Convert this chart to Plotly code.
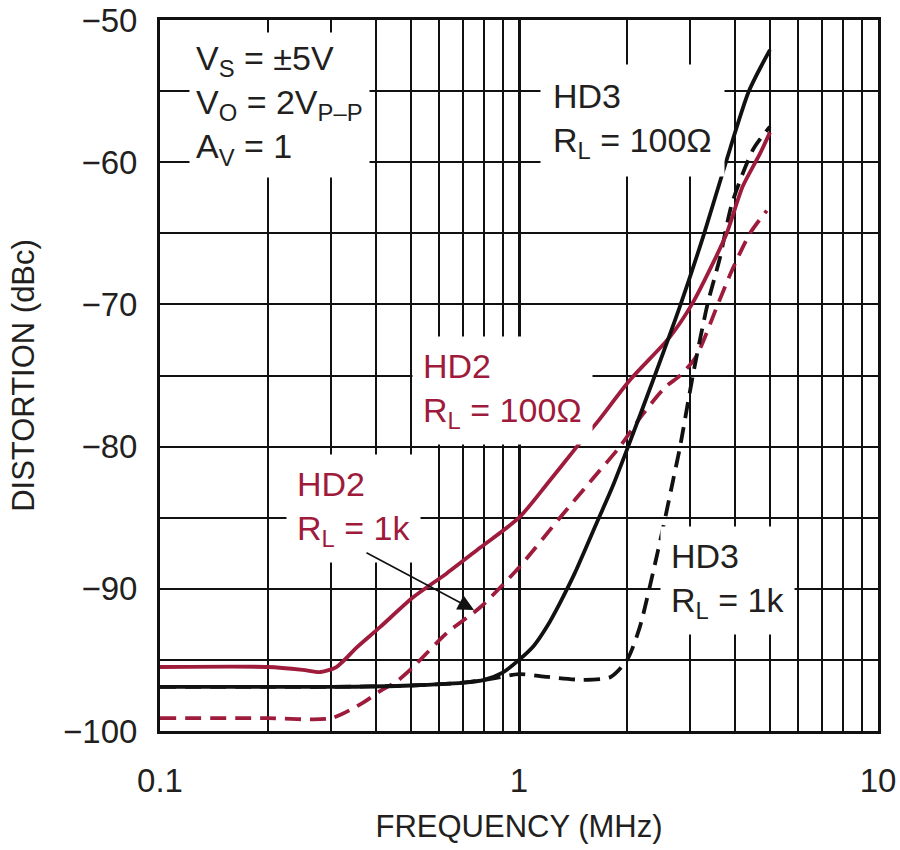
import plotly.graph_objects as go

# ---- data (frequency in MHz, distortion in dBc) ----
hd3_100_f = [0.1, 0.2, 0.3, 0.5, 0.7, 0.8, 0.9, 1.0, 1.1, 1.2, 1.3, 1.43, 1.65, 1.83, 2.0, 2.39, 2.82, 3.28, 3.77, 4.37, 5.0]
hd3_100_v = [-96.9, -96.9, -96.9, -96.8, -96.6, -96.4, -95.9, -95.0, -94.0, -92.6, -91.0, -88.9, -85.3, -82.7, -80.2, -75.0, -70.0, -65.0, -60.0, -55.0, -52.1]

hd3_1k_f = [0.1, 0.2, 0.3, 0.5, 0.7, 0.85, 1.0, 1.2, 1.5, 1.8, 2.0, 2.17, 2.36, 2.52, 2.69, 2.81, 3.05, 3.35, 3.63, 3.92, 4.49, 5.0]
hd3_1k_v = [-96.9, -96.9, -96.9, -96.8, -96.6, -96.3, -96.0, -96.2, -96.4, -96.2, -95.0, -92.7, -88.9, -85.7, -82.3, -80.0, -75.0, -70.0, -66.7, -62.9, -59.1, -57.5]

hd2_100_f = [0.1, 0.2, 0.25, 0.28, 0.31, 0.354, 0.41, 0.507, 0.63, 0.78, 1.0, 1.2, 1.45, 1.65, 2.04, 2.63, 3.03, 3.47, 3.79, 4.2, 4.69, 5.0]
hd2_100_v = [-95.5, -95.5, -95.7, -95.85, -95.5, -94.1, -92.7, -90.6, -88.9, -87.1, -85.0, -82.6, -80.0, -78.3, -75.3, -72.3, -70.0, -67.1, -65.0, -61.7, -59.4, -57.9]

hd2_1k_f = [0.1, 0.2, 0.3, 0.368, 0.41, 0.457, 0.507, 0.63, 0.78, 1.0, 1.3, 1.6, 1.91, 2.2, 2.56, 2.81, 3.11, 3.58, 3.92, 4.4, 4.9]
hd2_1k_v = [-99.1, -99.1, -99.1, -98.0, -97.2, -96.5, -95.5, -93.1, -91.3, -88.5, -85.0, -82.3, -80.0, -77.8, -75.8, -75.0, -73.7, -70.0, -67.6, -65.0, -63.4]

x_ticks = [0.1, 1, 10]
x_tick_text = ["0.1", "1", "10"]
x_minor = [0.2, 0.3, 0.4, 0.5, 0.6, 0.7, 0.8, 0.9, 2, 3, 4, 5, 6, 7, 8, 9]
y_ticks = [-100, -90, -80, -70, -60, -50]

RED = "#9e1b3c"
BLACK = "#111111"
TXT = "#231f20"
FONT = "Liberation Sans, Arial, sans-serif"

fig = go.Figure()

def add(f, v, color, dash):
    fig.add_trace(go.Scatter(x=f, y=v, mode="lines",
                             line=dict(color=color, width=3.8, dash=dash, shape="spline", smoothing=0.7),
                             showlegend=False, hoverinfo="skip"))

add(hd2_1k_f, hd2_1k_v, RED, "16px,9px")
add(hd3_1k_f, hd3_1k_v, BLACK, "16px,9px")
add(hd2_100_f, hd2_100_v, RED, "solid")
add(hd3_100_f, hd3_100_v, BLACK, "solid")

L, R, T, B = 160, 22, 20, 119
W, H = 900, 850
pw, ph = W - L - R, H - T - B

def px(xp):
    return (xp - L) / pw

def py(yp):
    return (H - B - yp) / ph

def label(text, x0, y0, color, pad=10):
    fig.add_annotation(text=text, xref="paper", yref="paper", x=px(x0), y=py(y0),
                       xanchor="left", yanchor="top", align="left", showarrow=False,
                       font=dict(family=FONT, size=34, color=color),
                       bgcolor="white", borderpad=pad)

label("V<sub>S</sub> = ±5V<br>V<sub>O</sub> = 2V<sub>P–P</sub><br>A<sub>V</sub> = 1", 189, 32, TXT, pad=6)
label("HD3<br>R<sub>L</sub> = 100Ω", 540, 64, TXT, pad=12)
label("HD2<br>R<sub>L</sub> = 100Ω", 412, 336, RED, pad=10)
label("HD2<br>R<sub>L</sub> = 1k", 286, 454, RED, pad=10)
label("HD3<br>R<sub>L</sub> = 1k", 660, 526, TXT, pad=10)

# arrow pointing to HD2 RL=1k curve
fig.add_annotation(x=px(474), y=py(610), xref="paper", yref="paper", text="",
                   showarrow=True, ax=365 - 474, ay=552 - 610,
                   arrowhead=2, arrowsize=2.0, arrowwidth=1.6, arrowcolor=BLACK)

axis_common = dict(showline=True, linewidth=3, linecolor=BLACK, mirror=True,
                   gridcolor=BLACK, zeroline=False, ticks="", automargin=False,
                   tickfont=dict(family=FONT, size=33, color=TXT))

fig.update_xaxes(type="log", range=[-1, 1], tickvals=x_ticks, ticktext=x_tick_text,
                 showgrid=True, gridwidth=3, ticklabelstandoff=18,
                 minor=dict(tickvals=x_minor, showgrid=True, gridcolor=BLACK, gridwidth=1.6, ticks=""),
                 title=dict(text="FREQUENCY (MHz)", font=dict(family=FONT, size=31, color=TXT), standoff=18),
                 **axis_common)
fig.update_yaxes(range=[-100, -50], tickvals=y_ticks, showgrid=True, gridwidth=1.6,
                 ticklabelstandoff=13,
                 minor=dict(dtick=5, showgrid=True, gridcolor=BLACK, gridwidth=1.6, ticks=""),
                 title=dict(text="DISTORTION (dBc)", font=dict(family=FONT, size=31, color=TXT), standoff=20),
                 **axis_common)

fig.update_layout(width=W, height=H, margin=dict(l=L, r=R, t=T, b=B),
                  paper_bgcolor="white", plot_bgcolor="white",
                  font=dict(family=FONT, color=TXT))

fig.write_html("out.html", config={"displayModeBar": False},
               post_script="document.body.style.margin='0px';document.body.style.overflow='hidden';")
